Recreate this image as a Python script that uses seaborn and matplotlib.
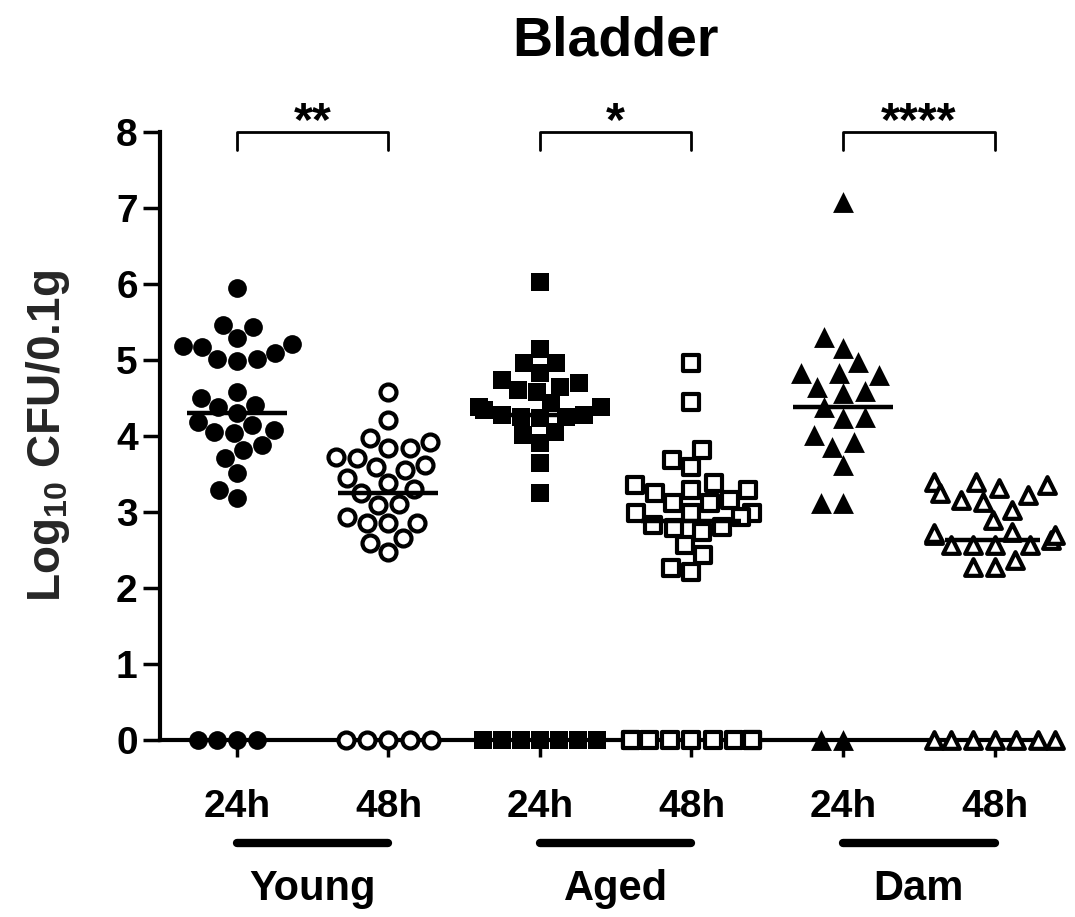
import warnings
import numpy as np
import pandas as pd
import seaborn as sns
import matplotlib.pyplot as plt

warnings.filterwarnings("ignore")

# ---- data ----
times = ["24h", "48h"]
groups = ["Young", "Aged", "Dam"]
stars = ["**", "*", "****"]

young_24h = [5.95, 5.43, 5.46, 5.29, 5.18, 5.21, 5.17, 5.09, 5.01, 4.99, 5.01,
             4.50, 4.58, 4.38, 4.41, 4.30, 4.18, 4.08, 4.05, 4.14, 4.04, 3.88,
             3.82, 3.71, 3.51, 3.29, 3.18, 0, 0, 0, 0]
young_48h = [4.58, 4.21, 3.97, 3.92, 3.84, 3.84, 3.72, 3.71, 3.59, 3.62, 3.55,
             3.45, 3.38, 3.30, 3.25, 3.09, 3.11, 2.93, 2.86, 2.86, 2.86, 2.59,
             2.66, 2.47, 0, 0, 0, 0, 0]
aged_24h = [6.03, 5.14, 4.96, 4.96, 4.83, 4.74, 4.64, 4.70, 4.61, 4.58, 4.34,
            4.38, 4.38, 4.43, 4.28, 4.25, 4.24, 4.25, 4.28, 4.01, 4.05, 3.91,
            3.64, 3.25, 0, 0, 0, 0, 0, 0, 0]
aged_48h = [4.96, 4.45, 3.82, 3.68, 3.59, 3.29, 3.36, 3.38, 3.29, 3.25, 3.12,
            3.16, 3.12, 2.99, 2.99, 2.99, 2.93, 2.74, 2.80, 2.83, 2.79, 2.57,
            2.43, 2.26, 2.21, 0, 0, 0, 0, 0, 0, 0, 0, 0]
dam_24h = [7.08, 5.30, 5.16, 4.97, 4.83, 4.83, 4.80, 4.64, 4.56, 4.59, 4.38,
           4.24, 4.25, 4.01, 3.92, 3.86, 3.62, 3.12, 3.12, 0, 0]
dam_48h = [3.36, 3.39, 3.39, 3.31, 3.25, 3.16, 3.13, 3.22, 3.03, 2.89, 2.63,
           2.74, 2.70, 2.70, 2.72, 2.57, 2.57, 2.57, 2.57, 2.28, 2.28, 2.37,
           0, 0, 0, 0, 0, 0, 0]

series = [young_24h, young_48h, aged_24h, aged_48h, dam_24h, dam_48h]

# ---- style ----
sns.set_theme(style="ticks")
plt.rcParams.update({
    "font.family": ["Liberation Sans", "DejaVu Sans"],
    "font.weight": "bold",
    "axes.labelweight": "bold",
    "mathtext.fontset": "custom",
    "mathtext.rm": "Liberation Sans:bold",
    "mathtext.bf": "Liberation Sans:bold",
    "mathtext.it": "Liberation Sans:bold",
    "mathtext.default": "bf",
})

markers = ["o", "o", "s", "s", "^", "^"]
filled = [True, False, True, False, True, False]
msize = [13.5, 11.5, 13.0, 11.5, 15.0, 12.0]

fig = plt.figure(figsize=(10.75, 9.17), dpi=100)
ax = fig.add_axes([0.1488, 0.193, 0.8186, 0.663])

for i, (vals, m, f, ms) in enumerate(zip(series, markers, filled, msize)):
    d = pd.DataFrame({"pos": float(i), "value": vals})
    if f:
        kw = dict(color="black", linewidth=0, size=ms)
    else:
        kw = dict(color="white", edgecolor="black", linewidth=3.0, size=ms)
    sns.swarmplot(data=d, x="pos", y="value", native_scale=True, orient="x",
                  marker=m, ax=ax, clip_on=False, zorder=3, **kw)
    med = np.median(vals)
    ax.plot([i - 0.33, i + 0.33], [med, med], color="black", lw=3.2,
            zorder=4, solid_capstyle="butt")

ax.set_xlim(-0.508, 5.30)
ax.set_ylim(0, 8)
ax.set_yticks(range(0, 9))
ax.set_yticklabels([str(v) for v in range(0, 9)])
ax.set_xticks(range(6))
ax.set_xticklabels(times * 3)
ax.set_xlabel("")
ax.set_ylabel(r"Log$_{10}$ CFU/0.1g", fontsize=33, fontweight="bold")
ax.yaxis.set_label_coords(-0.100, 0.5)

sns.despine(ax=ax)
for s in ["left", "bottom"]:
    ax.spines[s].set_linewidth(3)
    ax.spines[s].set_color("black")
ax.tick_params(axis="both", direction="out", length=12, width=2.5,
               color="black", labelcolor="black", labelsize=28)
ax.tick_params(axis="y", pad=4)
ax.tick_params(axis="x", pad=23)
for lab in ax.get_xticklabels() + ax.get_yticklabels():
    lab.set_fontweight("bold")

trans = ax.get_xaxis_transform()
for g in range(3):
    a, b = 2 * g, 2 * g + 1
    # significance bracket
    ax.plot([a, a, b, b], [7.76, 8.0, 8.0, 7.76], color="black", lw=2,
            clip_on=False, zorder=5)
    ax.text((a + b) / 2, 7.96, stars[g], ha="center", va="baseline",
            fontsize=35, fontweight="bold", color="black")
    # group underline and name
    ax.plot([a, b], [-0.1694, -0.1694], transform=trans, color="black",
            lw=6, solid_capstyle="round", clip_on=False)
    ax.text((a + b) / 2, -0.263, groups[g], transform=trans, ha="center",
            va="baseline", fontsize=30, fontweight="bold", color="black")

fig.text(0.573, 1 - 55 / 917, "Bladder", ha="center", va="baseline",
         fontsize=40, fontweight="bold", color="black")

fig.savefig("out.png", dpi=100, facecolor="white")
